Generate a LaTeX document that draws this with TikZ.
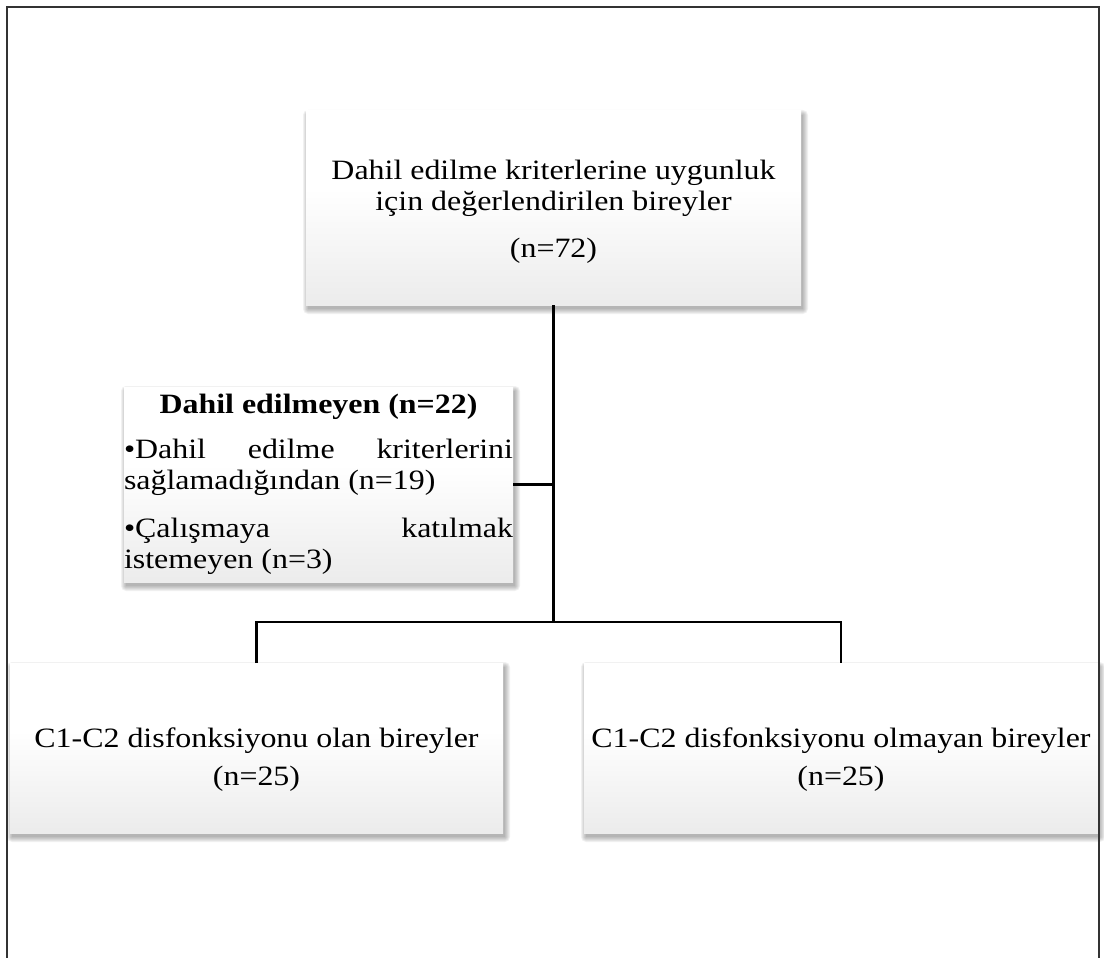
\documentclass[tikz,border=0pt]{standalone}
\usepackage{fontspec}
\setmainfont{Liberation Serif}[FakeStretch=1.14]
\usetikzlibrary{calc}
\pgfdeclarelayer{background}
\pgfsetlayers{background,main}
\pgfdeclareverticalshading{boxshade}{100bp}{color(0bp)=(black!14); color(55bp)=(white); color(100bp)=(white)}
\hyphenpenalty=10000
\exhyphenpenalty=10000
\tolerance=10000
\tikzset{
  box/.style={shade, shading=boxshade, inner sep=0pt, outer sep=0pt,
    font=\fontsize{28}{30.5}\selectfont},
  conn/.style={line width=2.8pt, black},
  frameline/.style={line width=1.8pt, black!80},
}
\newcommand\softshadow[1]{%
  \begin{pgfonlayer}{background}
  \foreach \k in {0,1,...,5}{
    \fill[black, opacity=0.055, rounded corners=\k pt]
      ([xshift={(2-\k)*1pt}, yshift={(-4+\k)*1pt}]#1.north west)
      rectangle ([xshift={(2+\k)*1pt}, yshift={(-4-\k)*1pt}]#1.south east);
  }
  \end{pgfonlayer}}
\begin{document}
\begin{tikzpicture}[x=1pt,y=-1pt]
\useasboundingbox (0,0) rectangle (1104,958);

\node[box, minimum width=495pt, minimum height=194pt, align=center] (top) at (553.5,208)
  {\rule{0pt}{27.5pt}Dahil edilme kriterlerine uygunluk\\ için değerlendirilen bireyler\\[17pt](n=72)};

\node[box, minimum width=389pt, minimum height=195pt, text width=389pt, align=justify] (excl) at (318.5,484.5)
  {\hbox to\hsize{\hfil\bfseries Dahil edilmeyen (n=22)\hfil}\par\vskip14.5pt
   •Dahil edilme kriterlerini sağlamadığından (n=19)\par\vskip18pt
   •Çalışmaya katılmak istemeyen (n=3)};

\node[box, minimum width=493pt, minimum height=170pt, align=center] (bl) at (256.5,748)
  {\rule{0pt}{42pt}C1-C2 disfonksiyonu olan bireyler\\[7.5pt](n=25)};

\node[box, minimum width=514pt, minimum height=170pt, align=center] (br) at (841,748)
  {\rule{0pt}{42pt}C1-C2 disfonksiyonu olmayan bireyler\\[7.5pt](n=25)};

\softshadow{top}
\softshadow{excl}
\softshadow{bl}
\softshadow{br}

\path (top.south) ++(0,317) coordinate (j);
\draw[conn] (top.south) -- (j);
\draw[conn] (excl.east) -- (excl.east -| j);
\draw[conn] (bl.north) |- (j) -| (br.north);

\draw[frameline] (7,958) -- (7,7) -- (1099,7) -- (1099,958);
\end{tikzpicture}
\end{document}
